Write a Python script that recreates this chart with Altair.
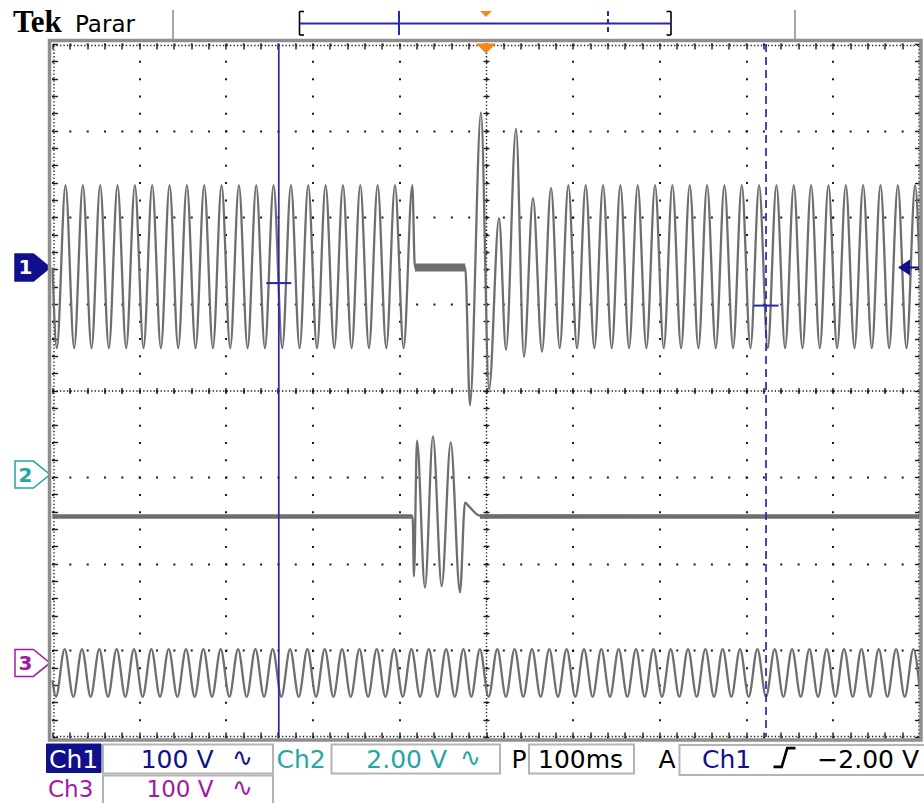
import altair as alt
import pandas as pd

# ---------------------------------------------------------------- scope settings
T_MIN, T_MAX = -500, 500                                  # ms, 100 ms/div, 10 div
VDIV = {"Ch1": 100.0, "Ch2": 2.0, "Ch3": 100.0}           # V/div (status bar)
GROUND = {"Ch1": 1.42, "Ch2": -0.97, "Ch3": -3.145}       # ground markers, div from centre

# ---------------------------------------------------------------- Ch1 extrema (ms, V)
ch1_t = [
    -500,
    -495, -485, -475, -465, -455, -445, -435, -425, -415, -405,
    -395, -385, -375, -365, -355, -345, -335, -325, -315, -305,
    -295, -285, -275, -265, -255, -245, -235, -225, -215, -205,
    -195, -185, -175, -165, -155, -145, -135, -125, -115, -105,
    -95, -85,
    -82, -24, -18.5, -5.8, 3.5, 15, 23.1, 34.6, 43.8, 54.2, 64.6, 75, 85,
    95, 105, 115, 125, 135, 145, 155, 165, 175, 185,
    195, 205, 215, 225, 235, 245, 255, 265, 275, 285,
    295, 305, 315, 325, 335, 345, 355, 365, 375, 385,
    395, 405, 415, 425, 435, 445, 455, 465, 475, 485,
    495, 500,
]
ch1_v = [
    0,
    -93, 95, -93, 95, -93, 95, -93, 95, -93, 95,
    -93, 95, -93, 95, -93, 95, -93, 95, -93, 95,
    -93, 95, -93, 95, -93, 95, -93, 95, -93, 95,
    -93, 95, -93, 95, -93, 95, -93, 95, -93, 95,
    -93, 95,
    0, 0, -159, 179, -141, 57, -95, 160, -103, 80, -97, 92, -93,
    95, -93, 95, -93, 95, -93, 95, -93, 95, -93,
    95, -93, 95, -93, 95, -93, 95, -93, 95, -93,
    95, -93, 95, -93, 95, -93, 95, -93, 95, -93,
    95, -93, 95, -93, 95, -93, 95, -93, 95, -93,
    95, 0,
]

# ---------------------------------------------------------------- Ch2 (ms, V)
ch2_t = [-500, -84.6, -83.1, -79.6, -70.4, -61.2, -51.1, -40.7, -30.0, -24.2, -18.5, -6.9, 500]
ch2_v = [-0.97, -0.97, -2.35, 0.78, -2.61, 0.88, -2.58, 0.74, -2.72, -0.65, -0.76, -0.95, -0.97]

# ---------------------------------------------------------------- Ch3 extrema (ms, V)
ch3_t = [
    -500,
    -496, -486, -476, -466, -456, -446, -436, -426, -416, -406,
    -396, -386, -376, -366, -356, -346, -336, -326, -316, -306,
    -296, -286, -276, -266, -256, -246, -236, -226, -216, -206,
    -196, -186, -176, -166, -156, -146, -136, -126, -116, -106,
    -96, -86, -76, -66, -56, -46, -36, -26, -17, -7,
    3, 13, 23, 33, 43, 53, 63, 73, 83, 93,
    103, 113, 123, 133, 143, 153, 163, 173, 183, 193,
    203, 213, 223, 233, 243, 253, 263, 273, 283, 293,
    303, 313, 323, 333, 343, 353, 363, 373, 383, 393,
    403, 413, 423, 433, 443, 453, 463, 473, 483, 493,
    500,
]
ch3_v = [
    -20,
    -39, 16, -39, 16, -39, 16, -39, 16, -39, 16,
    -39, 16, -39, 16, -39, 16, -39, 16, -39, 16,
    -39, 16, -39, 16, -39, 16, -39, 16, -39, 16,
    -39, 16, -39, 16, -39, 16, -39, 16, -39, 16,
    -39, 16, -39, 16, -39, 16, -39, 16, -39, 16,
    -39, 16, -39, 16, -39, 16, -39, 16, -39, 16,
    -39, 16, -39, 16, -39, 16, -39, 16, -39, 16,
    -39, 16, -39, 16, -39, 16, -39, 16, -39, 16,
    -39, 16, -39, 16, -39, 16, -39, 16, -39, 16,
    -39, 16, -39, 16, -39, 16, -39, 16, -39, 16,
    -28,
]

# ---------------------------------------------------------------- noise envelopes of flat parts (min/max, V)
flat_ch = ["Ch1", "Ch2", "Ch2"]
flat_t0 = [-82, -500, -6.9]
flat_t1 = [-24, -84.6, 500]
flat_lo = [-4.5, -1.02, -1.02]
flat_hi = [4.5, -0.92, -0.92]

# ---------------------------------------------------------------- cursors / trigger
cursor_t = [-239, 323]       # ms
cursor_v = [-18, -44]        # Ch1 value at each cursor, V
trigger_t = [0]

# ================================================================= tables
rows = []
for ch, ts, vs in (("Ch1", ch1_t, ch1_v), ("Ch2", ch2_t, ch2_v), ("Ch3", ch3_t, ch3_v)):
    for t, v in zip(ts, vs):
        rows.append({"ch": ch, "t": t, "pos": GROUND[ch] + v / VDIV[ch]})
traces = pd.DataFrame(rows)

brows = []
for i, ch in enumerate(flat_ch):
    for t in (flat_t0[i], flat_t1[i]):
        brows.append({"seg": i, "t": t,
                      "lo": GROUND[ch] + flat_lo[i] / VDIV[ch],
                      "hi": GROUND[ch] + flat_hi[i] / VDIV[ch]})
bands = pd.DataFrame(brows)

cursors = pd.DataFrame({"t": cursor_t, "pos": [GROUND["Ch1"] + v / VDIV["Ch1"] for v in cursor_v],
                        "kind": ["a", "b"]})
markers = pd.DataFrame({"ch": ["Ch1", "Ch2", "Ch3"], "label": ["1", "2", "3"],
                        "pos": [GROUND["Ch1"], GROUND["Ch2"], GROUND["Ch3"]]})
trig = pd.DataFrame({"t": trigger_t})
one = pd.DataFrame({"k": [0]})

# ================================================================= layout
W, H = 867, 693
X0, Y0 = 52.5, 44.0


def px(x):
    return x - X0


def py(y):
    return y - Y0


NAVY = "#10108c"
TEAL = "#22a6a6"
MAG = "#a21aa2"
CURSOR = "#2828ac"
ORANGE = "#f5861f"
TRACE = "#6e6e6e"
DOT = "#1a1a1a"
FRAME = "#8f8f8f"
BOXLINE = "#b4b4b4"
SANS = "DejaVu Sans"

xs = alt.Scale(domain=[T_MIN, T_MAX], nice=False, zero=False)
ys = alt.Scale(domain=[-4, 4], nice=False, zero=False)

major_x = list(range(-500, 501, 100))
minor_x = list(range(-500, 501, 20))
major_y = list(range(-4, 5))
minor_y = [round(-4 + 0.2 * i, 1) for i in range(41)]
dy_minor = H / 40
dx_minor = W / 50

ax_grid_x = alt.Axis(values=major_x, grid=True, gridColor=DOT, gridWidth=2,
                     gridDash=[2, dy_minor - 2], gridDashOffset=1,
                     ticks=False, domain=False, labels=False, title=None)
ax_grid_y = alt.Axis(values=major_y, grid=True, gridColor=DOT, gridWidth=2,
                     gridDash=[2, dx_minor - 2], gridDashOffset=1,
                     ticks=False, domain=False, labels=False, title=None)

TK = dict(labels=False, title=None, grid=False, tickColor=DOT, tickWidth=1.4)
DOM = dict(domain=True, domainColor=DOT, domainWidth=1.4, domainDash=[1.3, 2.17])

ax_cx_ticks = alt.Axis(orient="bottom", offset=-(H / 2 + 3), values=minor_x, ticks=True, tickSize=6,
                       domain=False, **TK)
ax_cy_ticks = alt.Axis(orient="left", offset=-(W / 2 + 3), values=minor_y, ticks=True, tickSize=6,
                       domain=False, **TK)
ax_cx_line = alt.Axis(orient="bottom", offset=-H / 2, ticks=False, **DOM, **TK)
ax_cy_line = alt.Axis(orient="left", offset=-W / 2, ticks=False, **DOM, **TK)
ax_top_edge = alt.Axis(orient="bottom", offset=-H + 1, values=minor_x, ticks=True, tickSize=4, **DOM, **TK)
ax_bot_edge = alt.Axis(orient="top", offset=-H + 1, values=minor_x, ticks=True, tickSize=4, **DOM, **TK)
ax_left_edge = alt.Axis(orient="right", offset=-W + 1, values=minor_y, ticks=True, tickSize=4, **DOM, **TK)
ax_right_edge = alt.Axis(orient="left", offset=-W + 1, values=minor_y, ticks=True, tickSize=4, **DOM, **TK)


def carrier(ax_x, ax_y):
    return alt.Chart(cursors).mark_point(opacity=0, size=1).encode(
        x=alt.X("t:Q", scale=xs, axis=ax_x), y=alt.Y("pos:Q", scale=ys, axis=ax_y))


def text(s, x, y, color="black", size=25, align="left", font=SANS, weight="normal", baseline="alphabetic"):
    return alt.Chart(one).mark_text(text=s, align=align, baseline=baseline, font=font, fontSize=size,
                                    fontWeight=weight, color=color).encode(
        x=alt.value(px(x)), y=alt.value(py(y)))


def box(x1, y1, x2, y2, fill="white", stroke=BOXLINE, sw=2.0, fill_opacity=1.0):
    return alt.Chart(one).mark_rect(fill=fill, fillOpacity=fill_opacity, stroke=stroke, strokeWidth=sw).encode(
        x=alt.value(px(x1)), x2=alt.value(px(x2)), y=alt.value(py(y1)), y2=alt.value(py(y2)))


def seg(x1, y1, x2, y2, color, width=1.5, dash=None):
    m = dict(color=color, strokeWidth=width)
    if dash:
        m["strokeDash"] = dash
    return alt.Chart(one).mark_rule(**m).encode(
        x=alt.value(px(x1)), y=alt.value(py(y1)), x2=alt.value(px(x2)), y2=alt.value(py(y2)))


def glyph(path, x, y, size, fill=None, stroke=None, sw=1.5):
    m = dict(shape=path, size=size, opacity=1)
    if fill:
        m.update(filled=True, fill=fill, fillOpacity=1)
    else:
        m.update(filled=False)
    if stroke:
        m.update(stroke=stroke, strokeWidth=sw)
    else:
        m.update(strokeWidth=0)
    return alt.Chart(one).mark_point(**m).encode(x=alt.value(px(x)), y=alt.value(py(y)))


layers = []

# noise envelopes + traces (first trace layer carries the dotted graticule)
layers.append(alt.Chart(bands).mark_area(color=TRACE, opacity=1).encode(
    x=alt.X("t:Q", scale=xs, axis=None), y=alt.Y("lo:Q", scale=ys, axis=None), y2="hi:Q",
    detail="seg:N"))
for ch in ("Ch1", "Ch2", "Ch3"):
    layers.append(alt.Chart(traces).transform_filter(alt.datum.ch == ch).mark_line(
        interpolate="monotone", color=TRACE, strokeWidth=2.3).encode(
        x=alt.X("t:Q", scale=xs, axis=ax_grid_x if ch == "Ch1" else None),
        y=alt.Y("pos:Q", scale=ys, axis=ax_grid_y if ch == "Ch1" else None)))

# graticule rulers
layers += [carrier(ax_cx_ticks, ax_cy_ticks), carrier(ax_cx_line, ax_cy_line),
           carrier(ax_top_edge, ax_left_edge), carrier(ax_bot_edge, ax_right_edge)]

# cursors
layers.append(alt.Chart(cursors).transform_filter(alt.datum.kind == "a").mark_rule(
    color=CURSOR, strokeWidth=1.7).encode(
    x=alt.X("t:Q", scale=xs, axis=None), y=alt.value(0), y2=alt.value(H)))
layers.append(alt.Chart(cursors).transform_filter(alt.datum.kind == "b").mark_rule(
    color=CURSOR, strokeWidth=1.7, strokeDash=[8, 5]).encode(
    x=alt.X("t:Q", scale=xs, axis=None), y=alt.value(0), y2=alt.value(H)))
layers.append(alt.Chart(cursors).mark_tick(orient="horizontal", size=25, thickness=2, color=CURSOR,
                                           opacity=1).encode(
    x=alt.X("t:Q", scale=xs, axis=None), y=alt.Y("pos:Q", scale=ys, axis=None)))

# trigger marker
TRI = "M-1,-0.5L1,-0.5L0,0.5Z"
layers.append(alt.Chart(trig).mark_point(shape=TRI, size=400, filled=True, fill=ORANGE, fillOpacity=1,
                                         strokeWidth=0, opacity=1).encode(
    x=alt.X("t:Q", scale=xs, axis=None), y=alt.value(py(48.5))))

# channel ground markers
BADGE = "M-1,-0.77L0.05,-0.77L1,0L0.05,0.77L-1,0.77Z"
for ch, fill, stroke, tcol in (("Ch1", NAVY, NAVY, "white"), ("Ch2", "white", TEAL, TEAL),
                               ("Ch3", "white", MAG, MAG)):
    base = alt.Chart(markers).transform_filter(alt.datum.ch == ch)
    layers.append(base.mark_point(shape=BADGE, size=1225, filled=True, fill=fill, fillOpacity=1,
                                  stroke=stroke, strokeWidth=1.5, opacity=1).encode(
        x=alt.value(px(32.5)), y=alt.Y("pos:Q", scale=ys, axis=None)))
    layers.append(base.mark_text(font=SANS, fontSize=20, fontWeight="bold", color=tcol,
                                 align="center", baseline="middle", dy=1).encode(
        x=alt.value(px(25.5)), y=alt.Y("pos:Q", scale=ys, axis=None), text="label:N"))
# Ch1 level arrow on the right
ARROW = "M-1,0L0.14,-0.76L0.14,0.76Z M0.14,-0.1L1,-0.1L1,0.1L0.14,0.1Z"
layers.append(alt.Chart(markers).transform_filter(alt.datum.ch == "Ch1").mark_point(
    shape=ARROW, size=441, filled=True, fill=NAVY, fillOpacity=1, strokeWidth=0, opacity=1).encode(
    x=alt.value(px(908.5)), y=alt.Y("pos:Q", scale=ys, axis=None)))

# graticule frame
layers.append(box(49.5, 40.5, 921, 740, fill="white", stroke=FRAME, sw=3.5, fill_opacity=0))

# ---------------------------------------------------------------- top bar
layers += [
    text("Tek", 13, 31.5, size=31, font="Liberation Serif", weight="bold"),
    text("Parar", 75, 31.5, size=23),
    seg(173, 10, 173, 39, "#a8a8a8", 2),
    seg(795, 10, 795, 39, "#a8a8a8", 2),
    seg(299.5, 11.5, 299.5, 35, "black", 1.6),
    seg(299.5, 11.5, 304, 11.5, "black", 1.6),
    seg(299.5, 35, 304, 35, "black", 1.6),
    seg(671, 11.5, 671, 35, "black", 1.6),
    seg(666.5, 11.5, 671, 11.5, "black", 1.6),
    seg(666.5, 35, 671, 35, "black", 1.6),
    seg(300, 23.5, 670, 23.5, CURSOR, 2),
    seg(399, 11, 399, 35, CURSOR, 2),
    seg(608, 11, 608, 35, CURSOR, 2, dash=[5, 3]),
    glyph(TRI, 486, 14, 144, fill=ORANGE),
]

# ---------------------------------------------------------------- status bar
SLOPE = "M-1,0.85L-0.25,0.85L0.25,-0.85L1,-0.85"
layers += [
    box(46.5, 744, 101, 772.5, fill=NAVY, stroke=NAVY, sw=1),
    text("Ch1", 49, 768, color="white"),
    box(103, 744.5, 273, 773.5),
    text("100 V", 213.5, 768, color=NAVY, align="right"),
    text("∿", 242.5, 758, color=NAVY, size=25, align="center", baseline="middle"),
    text("Ch2", 276.5, 768, color=TEAL),
    box(331.5, 744.5, 500, 773.5),
    text("2.00 V", 447, 768, color=TEAL, align="right"),
    text("∿", 470.5, 758, color=TEAL, size=25, align="center", baseline="middle"),
    text("P", 511.5, 768),
    box(529, 744.5, 634, 773.5),
    text("100ms", 538, 768),
    text("A", 658.5, 768),
    box(679.5, 745, 935, 775),
    text("Ch1", 702, 768, color=NAVY),
    glyph(SLOPE, 784.5, 757.5, 484, stroke="black", sw=2.6),
    text("−2.00 V", 919, 768, align="right"),
    text("Ch3", 48, 796.5, color=MAG, size=23),
    box(103, 775.5, 273, 804),
    text("100 V", 213.5, 796.5, color=MAG, size=23, align="right"),
    text("∿", 242.5, 788, color=MAG, size=25, align="center", baseline="middle"),
]

chart = alt.layer(*layers).resolve_axis(x="independent", y="independent").properties(
    width=W, height=H,
    padding={"left": X0, "top": Y0, "right": 924 - X0 - W, "bottom": 803 - Y0 - H},
    autosize=alt.AutoSizeParams(type="none"),
    background="white",
).configure_view(stroke=None)

chart.save("out.html", embed_options={"renderer": "svg", "actions": False})
